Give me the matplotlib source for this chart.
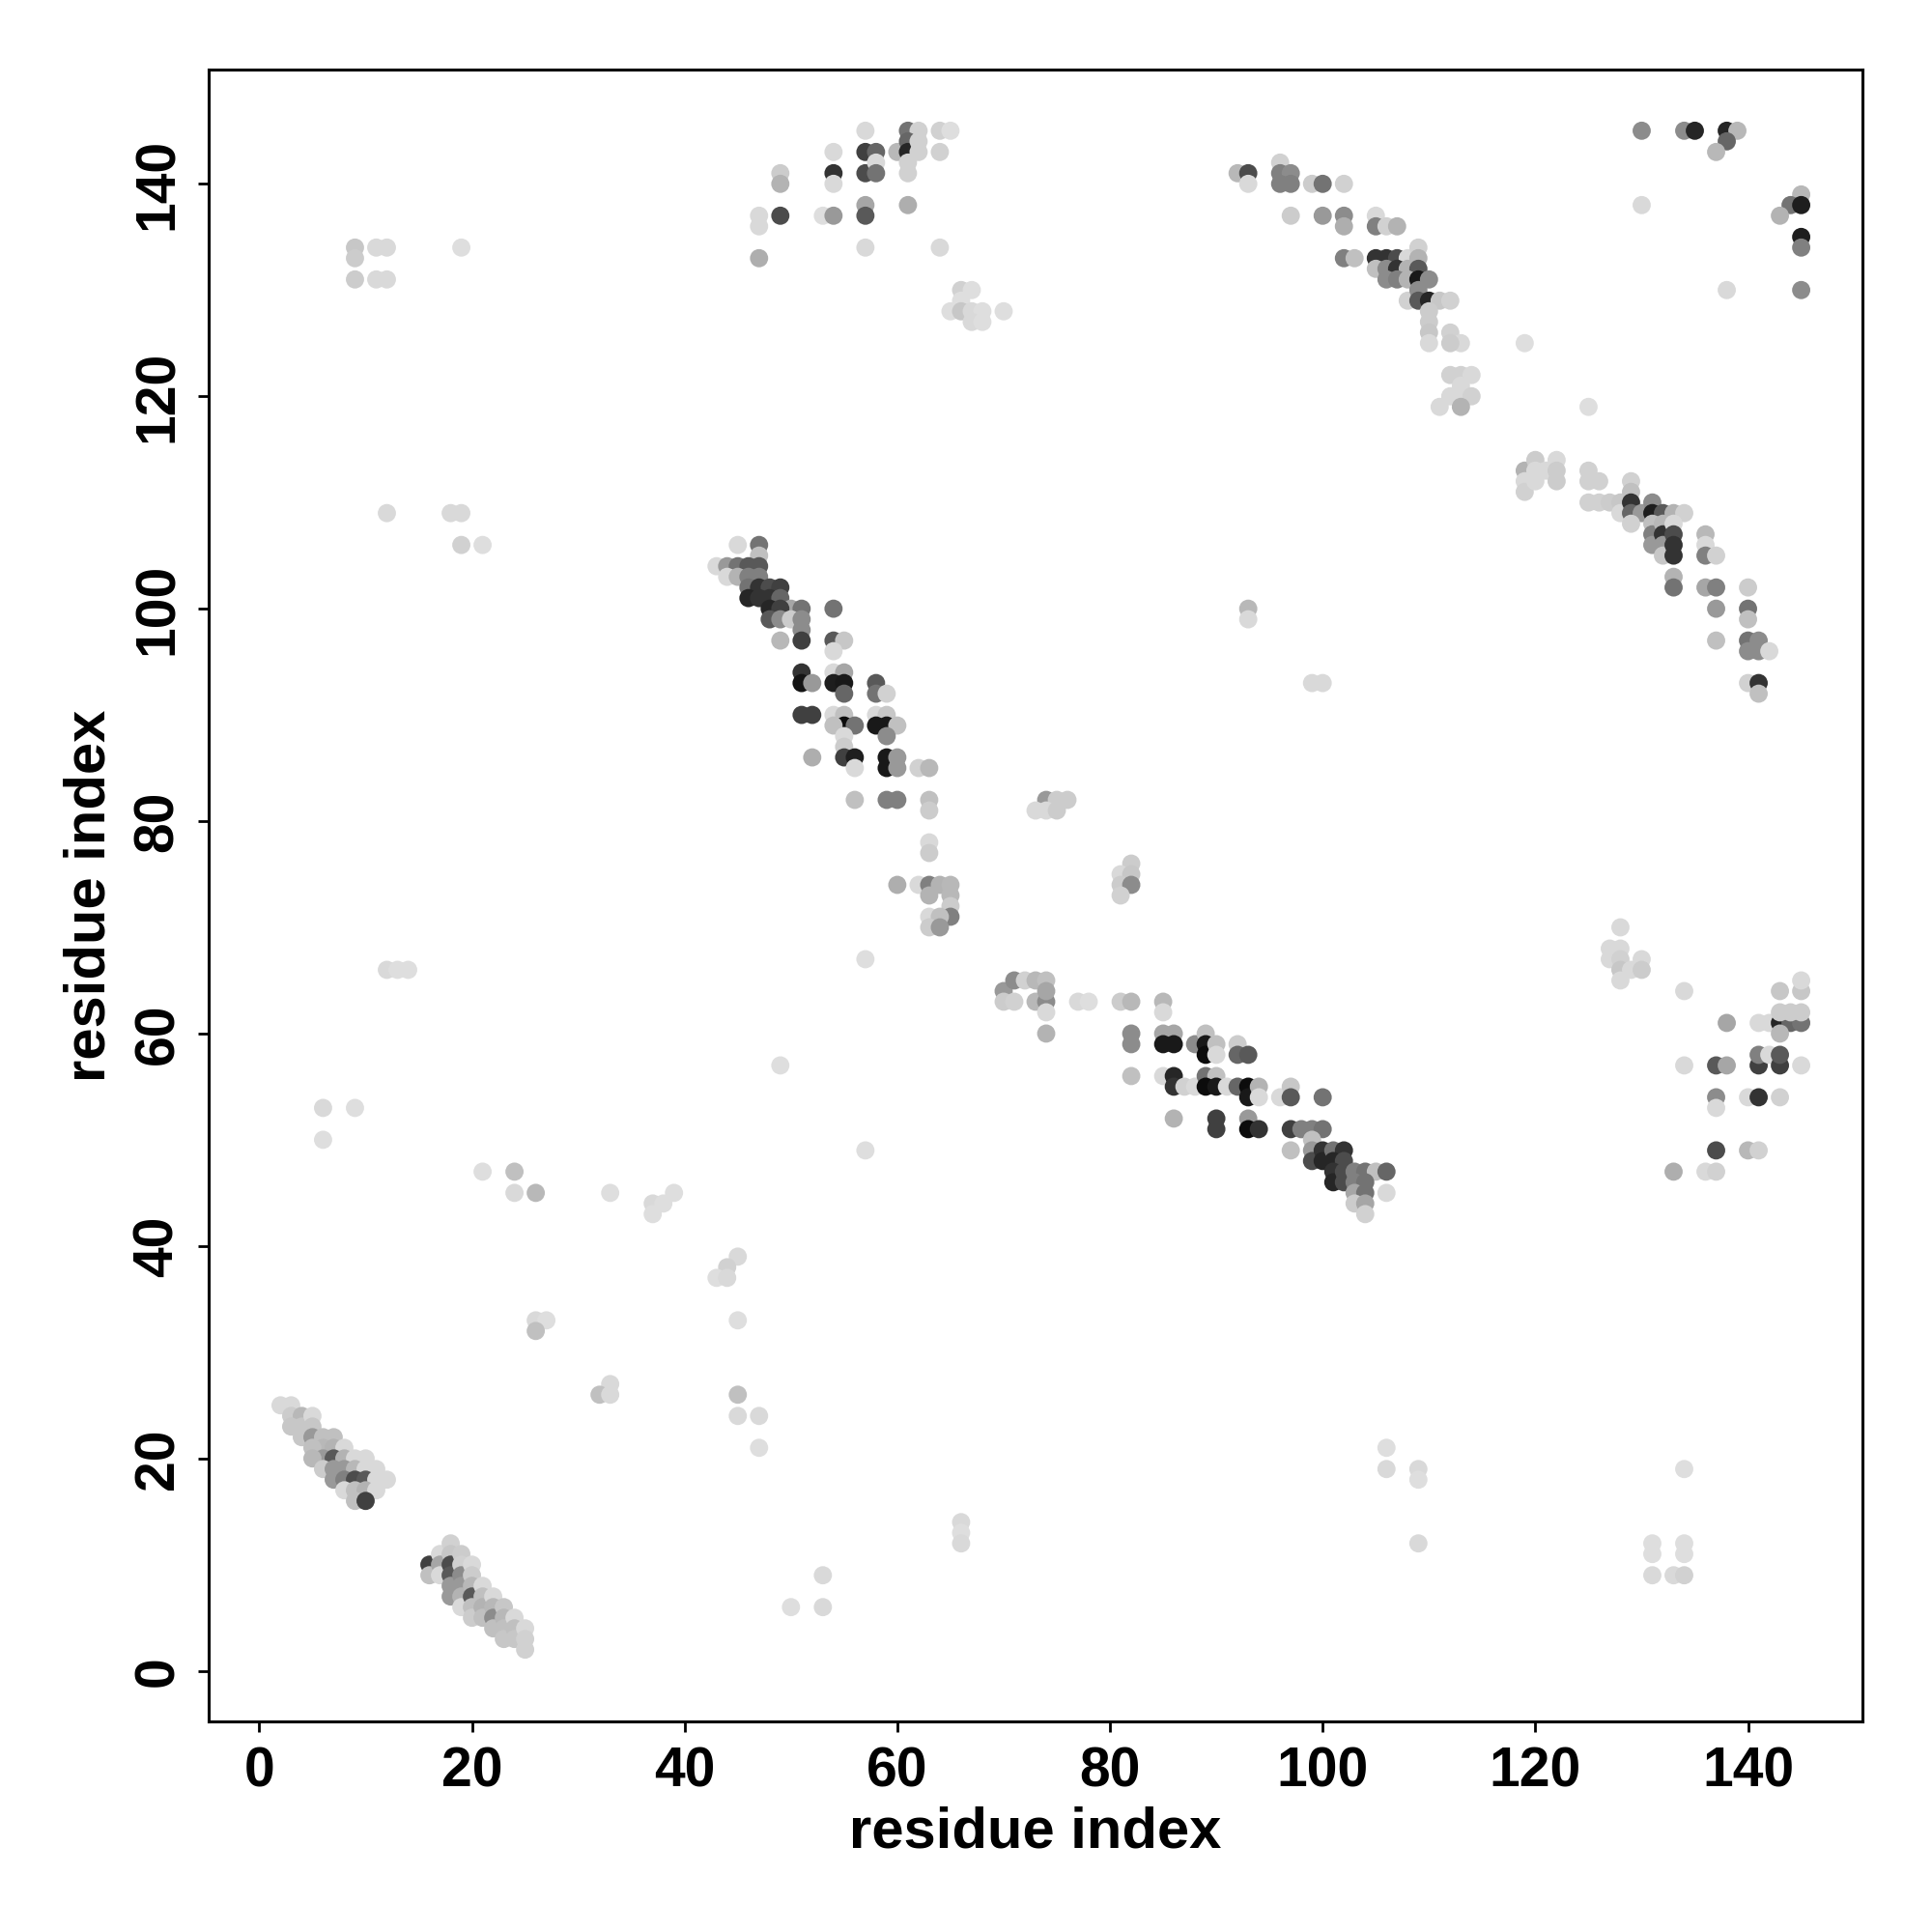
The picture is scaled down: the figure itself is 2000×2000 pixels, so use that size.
import numpy as np
import matplotlib
matplotlib.use('Agg')
import matplotlib.pyplot as plt

# contacts as (residue i, residue j, grey level 0=black .. 1=white)
strand_a = [(2,25,.85),(3,25,.85),(3,24,.8),(4,24,.72),(4,23,.78),(5,24,.85),(3,23,.78),(4,22,.78),
            (5,23,.78),(5,22,.6),(6,22,.75),(7,22,.75),(6,21,.72),(5,21,.75),(7,21,.7),(8,21,.85),
            (6,20,.6),(7,20,.35),(5,20,.72),(8,20,.7),(9,20,.85),(10,20,.85),(6,19,.8),(7,19,.6),
            (8,19,.6),(9,19,.72),(10,19,.85),(11,19,.85),(7,18,.6),(8,18,.5),(9,18,.3),(10,18,.35),
            (11,18,.85),(12,18,.85),(8,17,.85),(9,17,.75),(10,17,.7),(11,17,.85),(9,16,.75),(10,16,.25)]

strand_b = [(16,10,.25),(16,9,.75),(17,11,.85),(17,10,.65),(17,9,.85),(18,12,.82),(18,11,.78),
            (18,10,.3),(18,9,.35),(18,8,.6),(18,7,.6),(19,11,.8),(19,10,.82),(19,9,.55),(19,8,.6),
            (19,7,.7),(19,6,.85),(20,10,.85),(20,9,.8),(20,8,.72),(20,7,.35),(20,6,.75),(20,5,.8),
            (21,8,.85),(21,7,.75),(21,6,.7),(21,5,.75),(22,7,.85),(22,6,.72),(22,5,.55),(22,4,.75),
            (23,6,.78),(23,5,.72),(23,4,.75),(23,3,.78),(24,5,.85),(24,4,.75),(24,3,.78),
            (25,4,.85),(25,3,.82),(25,2,.82)]

sparse_left = [(9,134,.78),(9,133,.8),(9,131,.8),(11,134,.85),(12,134,.85),(11,131,.85),(12,131,.85),
               (19,134,.87),(12,109,.85),(18,109,.85),(19,109,.85),(19,106,.82),(21,106,.87),
               (12,66,.85),(13,66,.87),(14,66,.87),(6,53,.85),(6,50,.87),(9,53,.87),(21,47,.87),
               (24,47,.75),(24,45,.85),(26,45,.72),(33,45,.87),(37,44,.85),(38,44,.87),(39,45,.87),
               (37,43,.87),(45,39,.85),(44,38,.82),(43,37,.87),(44,37,.85),(45,33,.87),(26,33,.85),
               (27,33,.87),(26,32,.75),(33,27,.85),(32,26,.75),(33,26,.85),(45,26,.75),(45,24,.85),
               (47,24,.85),(47,21,.87),(49,57,.87),(57,49,.87),(57,67,.87),(50,6,.87),(53,9,.85),
               (53,6,.85),(66,14,.85),(66,13,.87),(66,12,.85)]

sheet_top = [(57,145,.85),(61,145,.45),(62,145,.82),(64,145,.82),(65,145,.87),(54,143,.85),
             (57,143,.25),(58,143,.4),(60,143,.72),(61,144,.4),(61,143,.15),(62,144,.82),
             (62,143,.82),(64,143,.82),(54,141,.2),(57,141,.3),(58,142,.85),(58,141,.45),
             (61,142,.82),(61,141,.82),(54,140,.85),(49,141,.8),(49,140,.7),(47,137,.85),
             (47,136,.85),(49,137,.3),(53,137,.87),(54,137,.6),(57,138,.65),(57,137,.35),
             (61,138,.68),(47,133,.68),(57,134,.85),(64,134,.85),(66,130,.82),(67,130,.87),
             (66,129,.87),(65,128,.87),(66,128,.78),(67,128,.85),(68,128,.87),(70,128,.87),
             (67,127,.85),(68,127,.87)]

helix_mid = [(45,106,.85),(47,106,.45),(47,105,.75),(43,104,.85),(44,104,.6),(45,104,.45),
             (46,104,.35),(47,104,.35),(44,103,.85),(45,103,.7),(46,103,.5),(47,103,.5),
             (46,102,.45),(47,102,.2),(48,102,.3),(49,102,.25),(46,101,.15),(47,101,.2),
             (48,101,.2),(49,101,.4),(50,100,.65),(51,100,.45),(48,100,.15),(49,100,.25),
             (48,99,.35),(49,99,.55),(50,99,.8),(51,99,.55),(51,98,.55),(54,100,.45),
             (49,97,.72),(51,97,.25),(54,97,.35),(55,97,.78),(54,96,.85),(51,94,.2),(51,93,.08),
             (52,93,.6),(54,94,.85),(55,94,.65),(54,93,.12),(55,93,.1),(55,92,.4),(58,93,.35),
             (58,92,.45),(59,92,.82),(51,90,.25),(52,90,.25),(54,90,.85),(55,90,.75),(55,89,.05),
             (56,89,.45),(54,89,.75),(58,90,.85),(59,90,.78),(58,89,.1),(59,89,.1),(60,89,.75),
             (59,88,.55),(55,88,.85),(55,87,.8),(52,86,.68),(55,86,.25),(56,86,.12),(56,85,.85),
             (59,86,.1),(59,85,.1),(60,86,.6),(60,85,.6),(62,85,.82),(63,85,.72),(56,82,.75),
             (59,82,.5),(60,82,.5),(63,82,.75),(63,81,.8),(63,78,.85),(63,77,.8),(60,74,.68),
             (62,74,.85),(63,74,.5),(64,74,.7),(65,74,.72),(63,73,.7),(65,73,.72),(65,72,.8),
             (65,71,.5),(63,71,.85),(64,71,.75),(63,70,.8),(64,70,.6)]

patch_mid = [(74,82,.6),(75,82,.8),(76,82,.8),(73,81,.85),(74,81,.85),(75,81,.8),(82,76,.8),
             (81,75,.85),(82,75,.78),(81,74,.8),(82,74,.55),(81,73,.82),(93,100,.72),(93,99,.85),
             (99,93,.85),(100,93,.85)]

sheet_low = [(70,64,.6),(71,65,.55),(72,65,.82),(73,65,.72),(74,65,.75),(70,63,.8),(71,63,.82),
             (73,63,.72),(74,63,.55),(74,64,.65),(74,62,.85),(74,60,.7),(77,63,.85),(78,63,.87),
             (81,63,.8),(82,63,.72),(85,63,.72),(85,62,.85),(82,60,.55),(82,59,.55),(82,56,.75),
             (85,60,.65),(86,60,.65),(85,59,.1),(86,59,.1),(88,59,.55),(89,60,.75),(89,59,.1),
             (89,58,.05),(90,59,.75),(90,58,.85),(92,59,.8),(92,58,.4),(93,58,.35),(85,56,.85),
             (86,56,.15),(86,55,.2),(87,55,.82),(88,55,.85),(89,56,.45),(90,56,.75),(89,55,.05),
             (90,55,.1),(91,55,.85),(92,55,.4),(93,55,.05),(93,54,.1),(94,55,.7),(94,54,.85),
             (96,54,.85),(97,55,.78),(97,54,.35),(100,54,.45),(86,52,.7),(90,52,.25),(90,51,.25),
             (93,52,.6),(93,51,.05),(94,51,.2),(97,51,.25),(98,51,.5),(99,51,.5),(100,51,.45),
             (97,49,.75),(99,50,.75),(99,49,.6),(99,48,.3),(100,49,.2),(100,48,.15),(101,49,.45),
             (102,49,.2),(101,48,.15),(102,48,.3),(101,47,.2),(101,46,.15),(102,47,.3),(102,46,.3),
             (103,47,.5),(104,47,.45),(105,47,.75),(106,47,.4),(103,46,.5),(104,46,.45),
             (103,45,.65),(104,45,.45),(103,44,.8),(104,44,.65),(104,43,.82),(106,45,.85)]

arc_upper = [(92,141,.72),(93,141,.3),(93,140,.85),(96,142,.82),(96,141,.5),(97,141,.55),
             (96,140,.5),(97,140,.5),(99,140,.8),(100,140,.45),(102,140,.82),(97,137,.8),
             (100,137,.6),(102,137,.55),(102,136,.68),(105,137,.85),(105,136,.5),(106,136,.82),
             (107,136,.7),(102,133,.5),(103,133,.75),(105,133,.2),(106,133,.2),(107,133,.3),
             (108,133,.85),(109,134,.82),(109,133,.7),(105,132,.75),(106,132,.55),(107,132,.2),
             (108,132,.7),(109,132,.35),(106,131,.55),(107,131,.5),(108,131,.7),(109,131,.1),
             (110,131,.55),(108,129,.82),(109,130,.55),(109,129,.35),(110,129,.15),(111,129,.78),
             (112,129,.82),(110,128,.8),(110,127,.8),(110,126,.78),(110,125,.85),(112,126,.82),
             (113,125,.85),(112,125,.8),(112,122,.82),(113,122,.82),(114,122,.85),(113,121,.85),
             (112,120,.85),(113,120,.85),(114,120,.82),(111,119,.85),(113,119,.7),
             (119,125,.87),(125,119,.87)]

arc_right = [(119,113,.7),(120,114,.8),(119,112,.85),(119,111,.82),(120,113,.85),(120,112,.85),
             (121,113,.85),(122,114,.85),(122,113,.8),(122,112,.8),(125,113,.82),(125,112,.82),
             (126,112,.82),(125,110,.82),(126,110,.82),(127,110,.8),(128,110,.78),(129,112,.82),
             (129,111,.75),(128,109,.85),(129,110,.2),(129,109,.4),(130,109,.6),(129,108,.82),
             (131,110,.55),(131,109,.12),(132,109,.35),(133,109,.7),(134,109,.82),(131,108,.75),
             (131,107,.5),(131,106,.6),(132,108,.72),(132,107,.2),(132,106,.6),(132,105,.78),
             (133,108,.85),(133,107,.3),(133,106,.2),(133,105,.2),(133,103,.7),(133,102,.45),
             (136,107,.72),(136,106,.85),(136,105,.5),(137,105,.82),(136,102,.65),(137,102,.5),
             (137,100,.6),(137,97,.75),(140,102,.8),(140,100,.45),(140,99,.75),(140,97,.45),
             (140,96,.55),(141,97,.55),(141,96,.55),(142,96,.85),(140,93,.82),(141,93,.2),
             (141,92,.75)]

corner_top = [(130,145,.55),(134,145,.55),(135,145,.15),(138,145,.15),(139,145,.72),(138,144,.4),
              (137,143,.72),(130,138,.85),(145,139,.72),(144,138,.45),(145,138,.12),(143,137,.7),
              (145,135,.12),(145,134,.5),(138,130,.85),(145,130,.55)]

patch_right = [(128,70,.85),(127,68,.85),(128,68,.85),(127,67,.85),(128,67,.82),(128,66,.78),
               (128,65,.85),(129,66,.85),(130,67,.85),(130,66,.8),(134,64,.85),(138,61,.65),
               (141,61,.85),(142,61,.85),(143,61,.15),(144,61,.4),(145,61,.45),(143,62,.8),
               (144,62,.8),(145,62,.8),(143,64,.78),(145,64,.78),(145,65,.85),(143,60,.72),
               (134,57,.85),(137,57,.35),(138,57,.65),(141,57,.25),(141,58,.5),(142,58,.85),
               (143,57,.25),(143,58,.35),(145,57,.85),(137,54,.55),(137,53,.85),(140,54,.85),
               (141,54,.2),(143,54,.82),(137,49,.3),(140,49,.72),(141,49,.82),(133,47,.68),
               (136,47,.85),(137,47,.82)]

sparse_low = [(106,21,.87),(106,19,.85),(109,19,.85),(109,18,.87),(109,12,.85),(131,12,.87),
              (131,11,.87),(131,9,.85),(133,9,.85),(134,9,.82),(134,12,.87),(134,11,.87),
              (134,19,.87)]

ticks = [0, 20, 40, 60, 80, 100, 120, 140]

pts = np.array(strand_a + strand_b + sparse_left + sheet_top + helix_mid + patch_mid +
               sheet_low + arc_upper + arc_right + corner_top + patch_right + sparse_low)
x, y, g = pts[:, 0], pts[:, 1], pts[:, 2]

plt.rcParams['font.family'] = ['Liberation Sans', 'DejaVu Sans']
fig = plt.figure(figsize=(10, 10), dpi=200)
ax = fig.add_axes([0.108, 0.109, 0.856, 0.855])
ax.scatter(x, y, c=g, cmap='gray', vmin=0, vmax=1, s=46, linewidths=0)

ax.set_xlim(-4.76, 150.76)
ax.set_ylim(-4.76, 150.76)
ax.set_xticks(ticks)
ax.set_yticks(ticks)
ax.tick_params(direction='out', length=4, width=1.0, labelsize=20.5, pad=5)
for lab in ax.get_xticklabels():
    lab.set_fontweight('bold')
for lab in ax.get_yticklabels():
    lab.set_fontweight('bold')
    lab.set_rotation(90)
    lab.set_va('center')
for sp in ax.spines.values():
    sp.set_linewidth(1.1)
ax.set_xlabel('residue index', fontsize=21.5, fontweight='bold', labelpad=3)
ax.set_ylabel('residue index', fontsize=21.5, fontweight='bold', labelpad=6)

fig.savefig('out.png', dpi=200)
